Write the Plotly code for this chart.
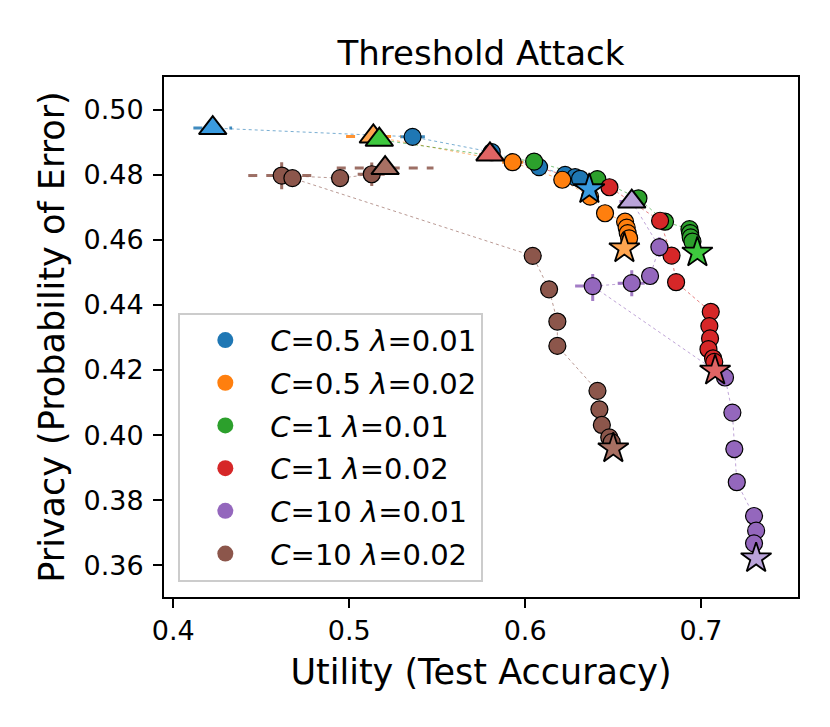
import plotly.graph_objects as go

# ---- data (test accuracy vs. probability of error) ----
# first point of each series is the triangle, last point is the star
labels = ["<i>C</i>=0.5 <i>λ</i>=0.01", "<i>C</i>=0.5 <i>λ</i>=0.02",
          "<i>C</i>=1 <i>λ</i>=0.01", "<i>C</i>=1 <i>λ</i>=0.02",
          "<i>C</i>=10 <i>λ</i>=0.01", "<i>C</i>=10 <i>λ</i>=0.02"]

acc_c05_l01 = [0.4224, 0.5360, 0.5810, 0.6079, 0.6227, 0.6284, 0.6312, 0.6365]
err_c05_l01 = [0.4944, 0.4917, 0.4870, 0.4824, 0.4800, 0.4793, 0.4788, 0.4756]
accsd_c05_l01 = [0.011, 0.007, 0.004, 0, 0, 0, 0, 0]
errsd_c05_l01 = [0, 0, 0, 0, 0, 0, 0, 0]

acc_c05_l02 = [0.5137, 0.5929, 0.6211, 0.6369, 0.6454, 0.6568, 0.6577, 0.6583, 0.6591, 0.6564]
err_c05_l02 = [0.4918, 0.4839, 0.4785, 0.4733, 0.4682, 0.4656, 0.4638, 0.4621, 0.4605, 0.4574]
accsd_c05_l02 = [0.0155, 0.006, 0, 0, 0, 0, 0, 0, 0, 0]
errsd_c05_l02 = [0, 0, 0, 0, 0, 0, 0, 0, 0, 0]

acc_c1_l01 = [0.5171, 0.6051, 0.6410, 0.6644, 0.6795, 0.6934, 0.6938, 0.6941, 0.6951, 0.6979]
err_c1_l01 = [0.4908, 0.4841, 0.4787, 0.4728, 0.4656, 0.4633, 0.4621, 0.4608, 0.4595, 0.4561]
accsd_c1_l01 = [0.004, 0, 0, 0, 0, 0, 0, 0, 0, 0]
errsd_c1_l01 = [0, 0, 0, 0, 0, 0, 0, 0, 0, 0]

acc_c1_l02 = [0.5800, 0.6479, 0.6767, 0.6832, 0.6858, 0.7055, 0.7047, 0.7051, 0.7042, 0.7068, 0.7075, 0.7080]
err_c1_l02 = [0.4863, 0.4762, 0.4659, 0.4552, 0.4470, 0.4379, 0.4335, 0.4297, 0.4264, 0.4236, 0.4225, 0.4198]
accsd_c1_l02 = [0.006, 0, 0, 0, 0.003, 0, 0, 0, 0, 0, 0, 0]
errsd_c1_l02 = [0, 0, 0, 0, 0, 0, 0, 0, 0, 0, 0, 0]

acc_c10_l01 = [0.6606, 0.6763, 0.6710, 0.6606, 0.6384, 0.7136, 0.7178, 0.7189, 0.7203,
               0.7301, 0.7313, 0.7301, 0.7313]
err_c10_l01 = [0.4718, 0.4578, 0.4489, 0.4467, 0.4458, 0.4177, 0.4069, 0.3957, 0.3855,
               0.3751, 0.3706, 0.3667, 0.3621]
accsd_c10_l01 = [0.007, 0.004, 0.003, 0.008, 0.010, 0.004, 0, 0, 0, 0, 0.004, 0.004, 0]
errsd_c10_l01 = [0, 0.003, 0, 0.004, 0.0046, 0.002, 0, 0, 0, 0, 0, 0, 0]

acc_c10_l02 = [0.5204, 0.5128, 0.4948, 0.4616, 0.4677, 0.6043, 0.6136, 0.6183, 0.6183,
               0.6411, 0.6422, 0.6436, 0.6478, 0.6492, 0.6501]
err_c10_l02 = [0.4821, 0.4802, 0.4790, 0.4798, 0.4790, 0.4551, 0.4448, 0.4349, 0.4274,
               0.4136, 0.4079, 0.4031, 0.3993, 0.3978, 0.3959]
accsd_c10_l02 = [0.0275, 0.008, 0.005, 0.019, 0.010, 0, 0, 0, 0.004, 0, 0, 0, 0, 0, 0]
errsd_c10_l02 = [0.002, 0.0036, 0, 0.0042, 0, 0, 0, 0, 0, 0, 0, 0, 0, 0, 0]

series = [
    (acc_c05_l01, err_c05_l01, accsd_c05_l01, errsd_c05_l01),
    (acc_c05_l02, err_c05_l02, accsd_c05_l02, errsd_c05_l02),
    (acc_c1_l01, err_c1_l01, accsd_c1_l01, errsd_c1_l01),
    (acc_c1_l02, err_c1_l02, accsd_c1_l02, errsd_c1_l02),
    (acc_c10_l01, err_c10_l01, accsd_c10_l01, errsd_c10_l01),
    (acc_c10_l02, err_c10_l02, accsd_c10_l02, errsd_c10_l02),
]

colors = ["#1f77b4", "#ff7f0e", "#2ca02c", "#d62728", "#9467bd", "#8c564b"]
light = ["#3a9be0", "#ffa550", "#3ec83e", "#e06464", "#b9a3d9", "#a87063"]

FONT = "DejaVu Sans"

fig = go.Figure()

# connecting lines and error bars (bottom layer)
for (x, y, xe, ye), c in zip(series, colors):
    fig.add_trace(go.Scatter(x=x, y=y, mode="lines",
                             line=dict(color=c, width=0.8, dash="dot"),
                             opacity=0.75, showlegend=False, hoverinfo="skip"))
    hx, hy, vx, vy = [], [], [], []
    for xi, yi, dx, dy in zip(x, y, xe, ye):
        if dx > 0:
            hx += [xi - dx, xi + dx, None]
            hy += [yi, yi, None]
        if dy > 0:
            vx += [xi, xi, None]
            vy += [yi - dy, yi + dy, None]
    for ex, ey in ((hx, hy), (vx, vy)):
        if ex:
            fig.add_trace(go.Scatter(x=ex, y=ey, mode="lines",
                                     line=dict(color=c, width=3, dash="dash"),
                                     opacity=0.85, showlegend=False, hoverinfo="skip"))

# circles
for (x, y, xe, ye), c in zip(series, colors):
    fig.add_trace(go.Scatter(x=x[1:-1], y=y[1:-1], mode="markers",
                             marker=dict(symbol="circle", size=17, color=c,
                                         line=dict(color="black", width=1.2)),
                             showlegend=False))

# triangles (start) and stars (end)
for (x, y, xe, ye), c in zip(series, light):
    fig.add_trace(go.Scatter(x=[x[0]], y=[y[0]], mode="markers",
                             marker=dict(symbol="triangle-up", size=24, color=c,
                                         line=dict(color="black", width=2)),
                             showlegend=False))
for (x, y, xe, ye), c in zip(series, light):
    fig.add_trace(go.Scatter(x=[x[-1]], y=[y[-1]], mode="markers",
                             marker=dict(symbol="star", size=23, color=c,
                                         line=dict(color="black", width=1.8)),
                             showlegend=False))

# legend entries
for i, (lab, c) in enumerate(zip(labels, colors)):
    fig.add_trace(go.Scatter(x=[None], y=[None], mode="markers", name=lab,
                             legendgroup=str(i),
                             marker=dict(symbol="circle", size=20, color=c)))

axis_common = dict(showline=True, linecolor="black", linewidth=2, mirror=True,
                   ticks="outside", ticklen=9, tickwidth=2, tickcolor="black",
                   showgrid=False, zeroline=False,
                   tickfont=dict(family=FONT, size=27, color="black"))

fig.update_layout(
    width=830, height=727,
    margin=dict(l=156, r=40, t=69, b=138),
    paper_bgcolor="white", plot_bgcolor="white",
    font=dict(family=FONT, color="black"),
    title=dict(text="Threshold Attack", x=0.5, xref="paper", xanchor="center",
               y=0.921, yref="container", yanchor="bottom",
               font=dict(family=FONT, size=34, color="black")),
    xaxis=dict(range=[0.3947, 0.7551], tickvals=[0.4, 0.5, 0.6, 0.7],
               title=dict(text="Utility (Test Accuracy)", standoff=14,
                          font=dict(family=FONT, size=35, color="black")),
               **axis_common),
    yaxis=dict(range=[0.3502, 0.5101], dtick=0.02, tickformat=".2f",
               ticklabelstandoff=4,
               title=dict(text="Privacy (Probability of Error)", standoff=8,
                          font=dict(family=FONT, size=35, color="black")),
               **axis_common),
    legend=dict(x=0.0226, y=0.0294, xanchor="left", yanchor="bottom",
                bgcolor="rgba(255,255,255,0.85)", bordercolor="#cccccc", borderwidth=2,
                font=dict(family=FONT, size=29, color="black"),
                tracegroupgap=2, itemwidth=80),
)

fig.write_html("out.html")
